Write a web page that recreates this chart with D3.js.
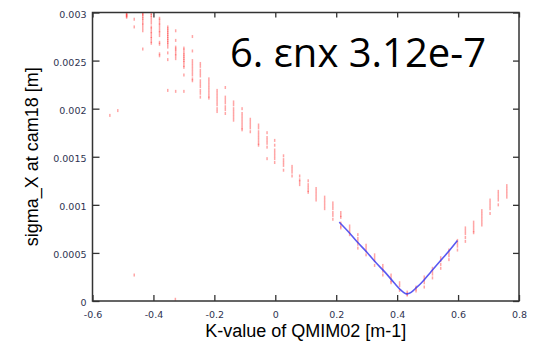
<!DOCTYPE html>
<html><head><meta charset="utf-8">
<script src="https://cdn.jsdelivr.net/npm/d3@7"></script>
<style>html,body{margin:0;padding:0;background:#fff;}svg{display:block;}</style>
</head><body><svg id="c" width="544" height="347"></svg>
<script>
// K-value columns (m^-1) and sigma_X samples (m) for each column
const kColumns = [-0.488,-0.463,-0.435,-0.407,-0.380,-0.353,-0.327,-0.300,-0.272,-0.246,-0.218,-0.191,-0.164,-0.137,-0.109,-0.082,-0.055,-0.027,-0.002,0.027,0.055,0.080,0.108,0.134,0.162,0.189,0.215,0.244,0.271,0.298,0.326,0.353,0.380,0.408,0.433,0.462,0.489,0.516,0.543,0.570,0.598,0.624,0.651,0.678,0.705,0.732,0.760];
const sigmaColumns = [
 [0.00299,0.00298,0.00297,0.00296,0.00295],
 [0.00293,0.00285],
 [0.00299,0.00298,0.00296,0.00294,0.00292,0.00289,0.00287,0.00284,0.00281,0.00262],
 [0.00299,0.00297,0.00295,0.00292,0.00289,0.00285,0.00283,0.00280,0.00278,0.00275,0.00273,0.00270,0.00268],
 [0.00294,0.00292,0.00289,0.00287,0.00284,0.00281,0.00279,0.00276,0.00269,0.00267,0.00257,0.00255],
 [0.00285,0.00283,0.00281,0.00279,0.00277,0.00275,0.00273,0.00271,0.00269,0.00267,0.00264,0.00258,0.00251,0.00219],
 [0.00281,0.00271,0.00264,0.00262,0.00260,0.00257,0.00255,0.00252,0.00218],
 [0.00263,0.00261,0.00258,0.00256,0.00254,0.00252,0.00250,0.00248,0.00245,0.00243,0.00235,0.00218],
 [0.00275,0.00260,0.00250,0.00247,0.00244,0.00241,0.00238,0.00235,0.00231,0.00229],
 [0.00247,0.00244,0.00240,0.00237,0.00234,0.00229,0.00226,0.00223,0.00219,0.00216,0.00212],
 [0.00231,0.00228,0.00225,0.00222,0.00219,0.00216,0.00213,0.00211],
 [0.00219,0.00216,0.00213,0.00210,0.00207,0.00204,0.00200,0.00197],
 [0.00222,0.00212,0.00209,0.00206,0.00202,0.00199,0.00195],
 [0.00207,0.00204,0.00200,0.00197,0.00194,0.00191,0.00188],
 [0.00200,0.00195,0.00192,0.00189,0.00186,0.00183,0.00180,0.00178],
 [0.00189,0.00186,0.00183,0.00180,0.00176],
 [0.00183,0.00180,0.00176,0.00173,0.00170,0.00167,0.00164,0.00162],
 [0.00175,0.00170,0.00167,0.00164,0.00160,0.00148],
 [0.00167,0.00162,0.00157,0.00154,0.00151,0.00148,0.00144],
 [0.00151,0.00147,0.00144,0.00141,0.00136],
 [0.00140,0.00137,0.00134,0.00130],
 [0.00130,0.00126,0.00124,0.00121],
 [0.00125,0.00121,0.00118,0.00115,0.00113],
 [0.00117,0.00114,0.00111,0.00108,0.00105],
 [0.00108,0.00105,0.00102,0.00099,0.00096],
 [0.00102,0.00099,0.00096,0.00092,0.00089,0.00085],
 [0.00092,0.00089,0.00087,0.00081,0.00078,0.00076],
 [0.00078,0.00075,0.00072,0.00069],
 [0.00069,0.00065,0.00062,0.00059,0.00055],
 [0.00058,0.00055,0.00052,0.00048],
 [0.00048,0.00045,0.00042,0.00037],
 [0.00037,0.00034,0.00031,0.00027],
 [0.00027,0.00024,0.00021,0.00019],
 [0.00019,0.00016,0.00011],
 [0.000093,0.000073,0.000062],
 [0.000145,0.000125,0.000104],
 [0.00025,0.00022,0.00019,0.000145],
 [0.00034,0.00031,0.00028,0.00024],
 [0.00045,0.00042,0.00038,0.00034],
 [0.00053,0.00050,0.00047,0.00043],
 [0.00063,0.00060,0.00057,0.00053],
 [0.00076,0.00073,0.00070,0.00066,0.00062],
 [0.00082,0.00079,0.00076,0.00073,0.00071],
 [0.00094,0.00091,0.00088,0.00085,0.00082,0.00079],
 [0.00105,0.00102,0.00099,0.00096,0.00091],
 [0.00114,0.00111,0.00108,0.00105,0.00100],
 [0.00120,0.00117,0.00114,0.00111,0.00108]
];
// isolated outlier points
const outlierK = [-0.543,-0.517,-0.463,-0.328];
const outlierSigma = [0.00193,0.00198,0.00027,0.000018];
// fitted curve (blue)
const fitK = [0.210,0.240,0.270,0.300,0.330,0.360,0.390,0.410,0.420,0.430,0.440,0.450,0.460,0.480,0.510,0.540,0.570,0.598];
const fitSigma = [0.00082,0.00072,0.00061,0.00051,0.00040,0.00030,0.00019,0.00012,0.000092,0.000074,0.000080,0.000100,0.00013,0.00019,0.00030,0.00041,0.00052,0.00063];
const xTicks = [-0.6,-0.4,-0.2,0,0.2,0.4,0.6,0.8];
const yTicks = [0,0.0005,0.001,0.0015,0.002,0.0025,0.003];
const xTickLabels = ["-0.6","-0.4","-0.2","0","0.2","0.4","0.6","0.8"];
const yTickLabels = ["0","0.0005","0.001","0.0015","0.002","0.0025","0.003"];
const titleText = "6. εnx 3.12e-7";
const xLabel = "K-value of QMIM02 [m-1]";
const yLabel = "sigma_X at cam18 [m]";

const svg = d3.select("#c");
const L=92.5, R=519, T=12.5, B=301;
const x = d3.scaleLinear().domain([-0.6,0.8]).range([L,R]);
const y = d3.scaleLinear().domain([0,0.003]).range([B,T]);

const pts = [];
kColumns.forEach((k,i)=>sigmaColumns[i].forEach(s=>pts.push([k,s])));
outlierK.forEach((k,i)=>pts.push([k,outlierSigma[i]]));

const g = svg.append("g");
g.selectAll("rect.p").data(pts).join("rect").attr("class","p")
 .attr("x",d=>x(d[0])-0.75).attr("y",d=>y(d[1])-1.5)
 .attr("width",1.5).attr("height",3)
 .attr("fill","#ff2020").attr("fill-opacity",0.4);

g.append("path").datum(fitK.map((k,i)=>[k,fitSigma[i]]))
 .attr("d",d3.line().x(d=>x(d[0])).y(d=>y(d[1])).curve(d3.curveMonotoneX))
 .attr("fill","none").attr("stroke","#3c3cf0").attr("stroke-opacity",0.85).attr("stroke-width",1.6);

const axCol="#333";
const axB = svg.append("g").attr("transform",`translate(0,${B})`)
 .call(d3.axisBottom(x).tickValues(xTicks).tickFormat((d,i)=>xTickLabels[i]).tickSize(-6).tickPadding(10));
const axT = svg.append("g").attr("transform",`translate(0,${T})`)
 .call(d3.axisTop(x).tickValues(xTicks).tickFormat("").tickSize(-5));
const axL = svg.append("g").attr("transform",`translate(${L},0)`)
 .call(d3.axisLeft(y).tickValues(yTicks).tickFormat((d,i)=>yTickLabels[i]).tickSize(-7).tickPadding(6));
const axR = svg.append("g").attr("transform",`translate(${R},0)`)
 .call(d3.axisRight(y).tickValues(yTicks).tickFormat("").tickSize(-6));
[axB,axT,axL,axR].forEach(a=>{
  a.select(".domain").remove();
  a.selectAll("line").attr("stroke",axCol).attr("stroke-width",1.3);
  a.selectAll("text").attr("fill","#2e3350").style("font","9.5px 'DejaVu Sans', Verdana, sans-serif");
});
axL.selectAll("text").attr("dy","0.5em");
svg.append("rect").attr("x",L).attr("y",T).attr("width",R-L).attr("height",B-T)
 .attr("fill","none").attr("stroke",axCol).attr("stroke-width",1.5);

svg.append("text").attr("x",230).attr("y",67).text(titleText)
 .attr("fill","#000").style("font","40px 'Open Sans', 'Noto Sans', sans-serif");
svg.append("text").attr("x",(L+R)/2).attr("y",337).attr("text-anchor","middle").text(xLabel)
 .attr("fill","#000").style("font","18px 'Liberation Sans', Arial, sans-serif");
svg.append("text").attr("transform",`translate(38,${(T+B)/2}) rotate(-90)`).attr("text-anchor","middle").text(yLabel)
 .attr("fill","#000").style("font","18px 'Liberation Sans', Arial, sans-serif");
</script></body></html>
